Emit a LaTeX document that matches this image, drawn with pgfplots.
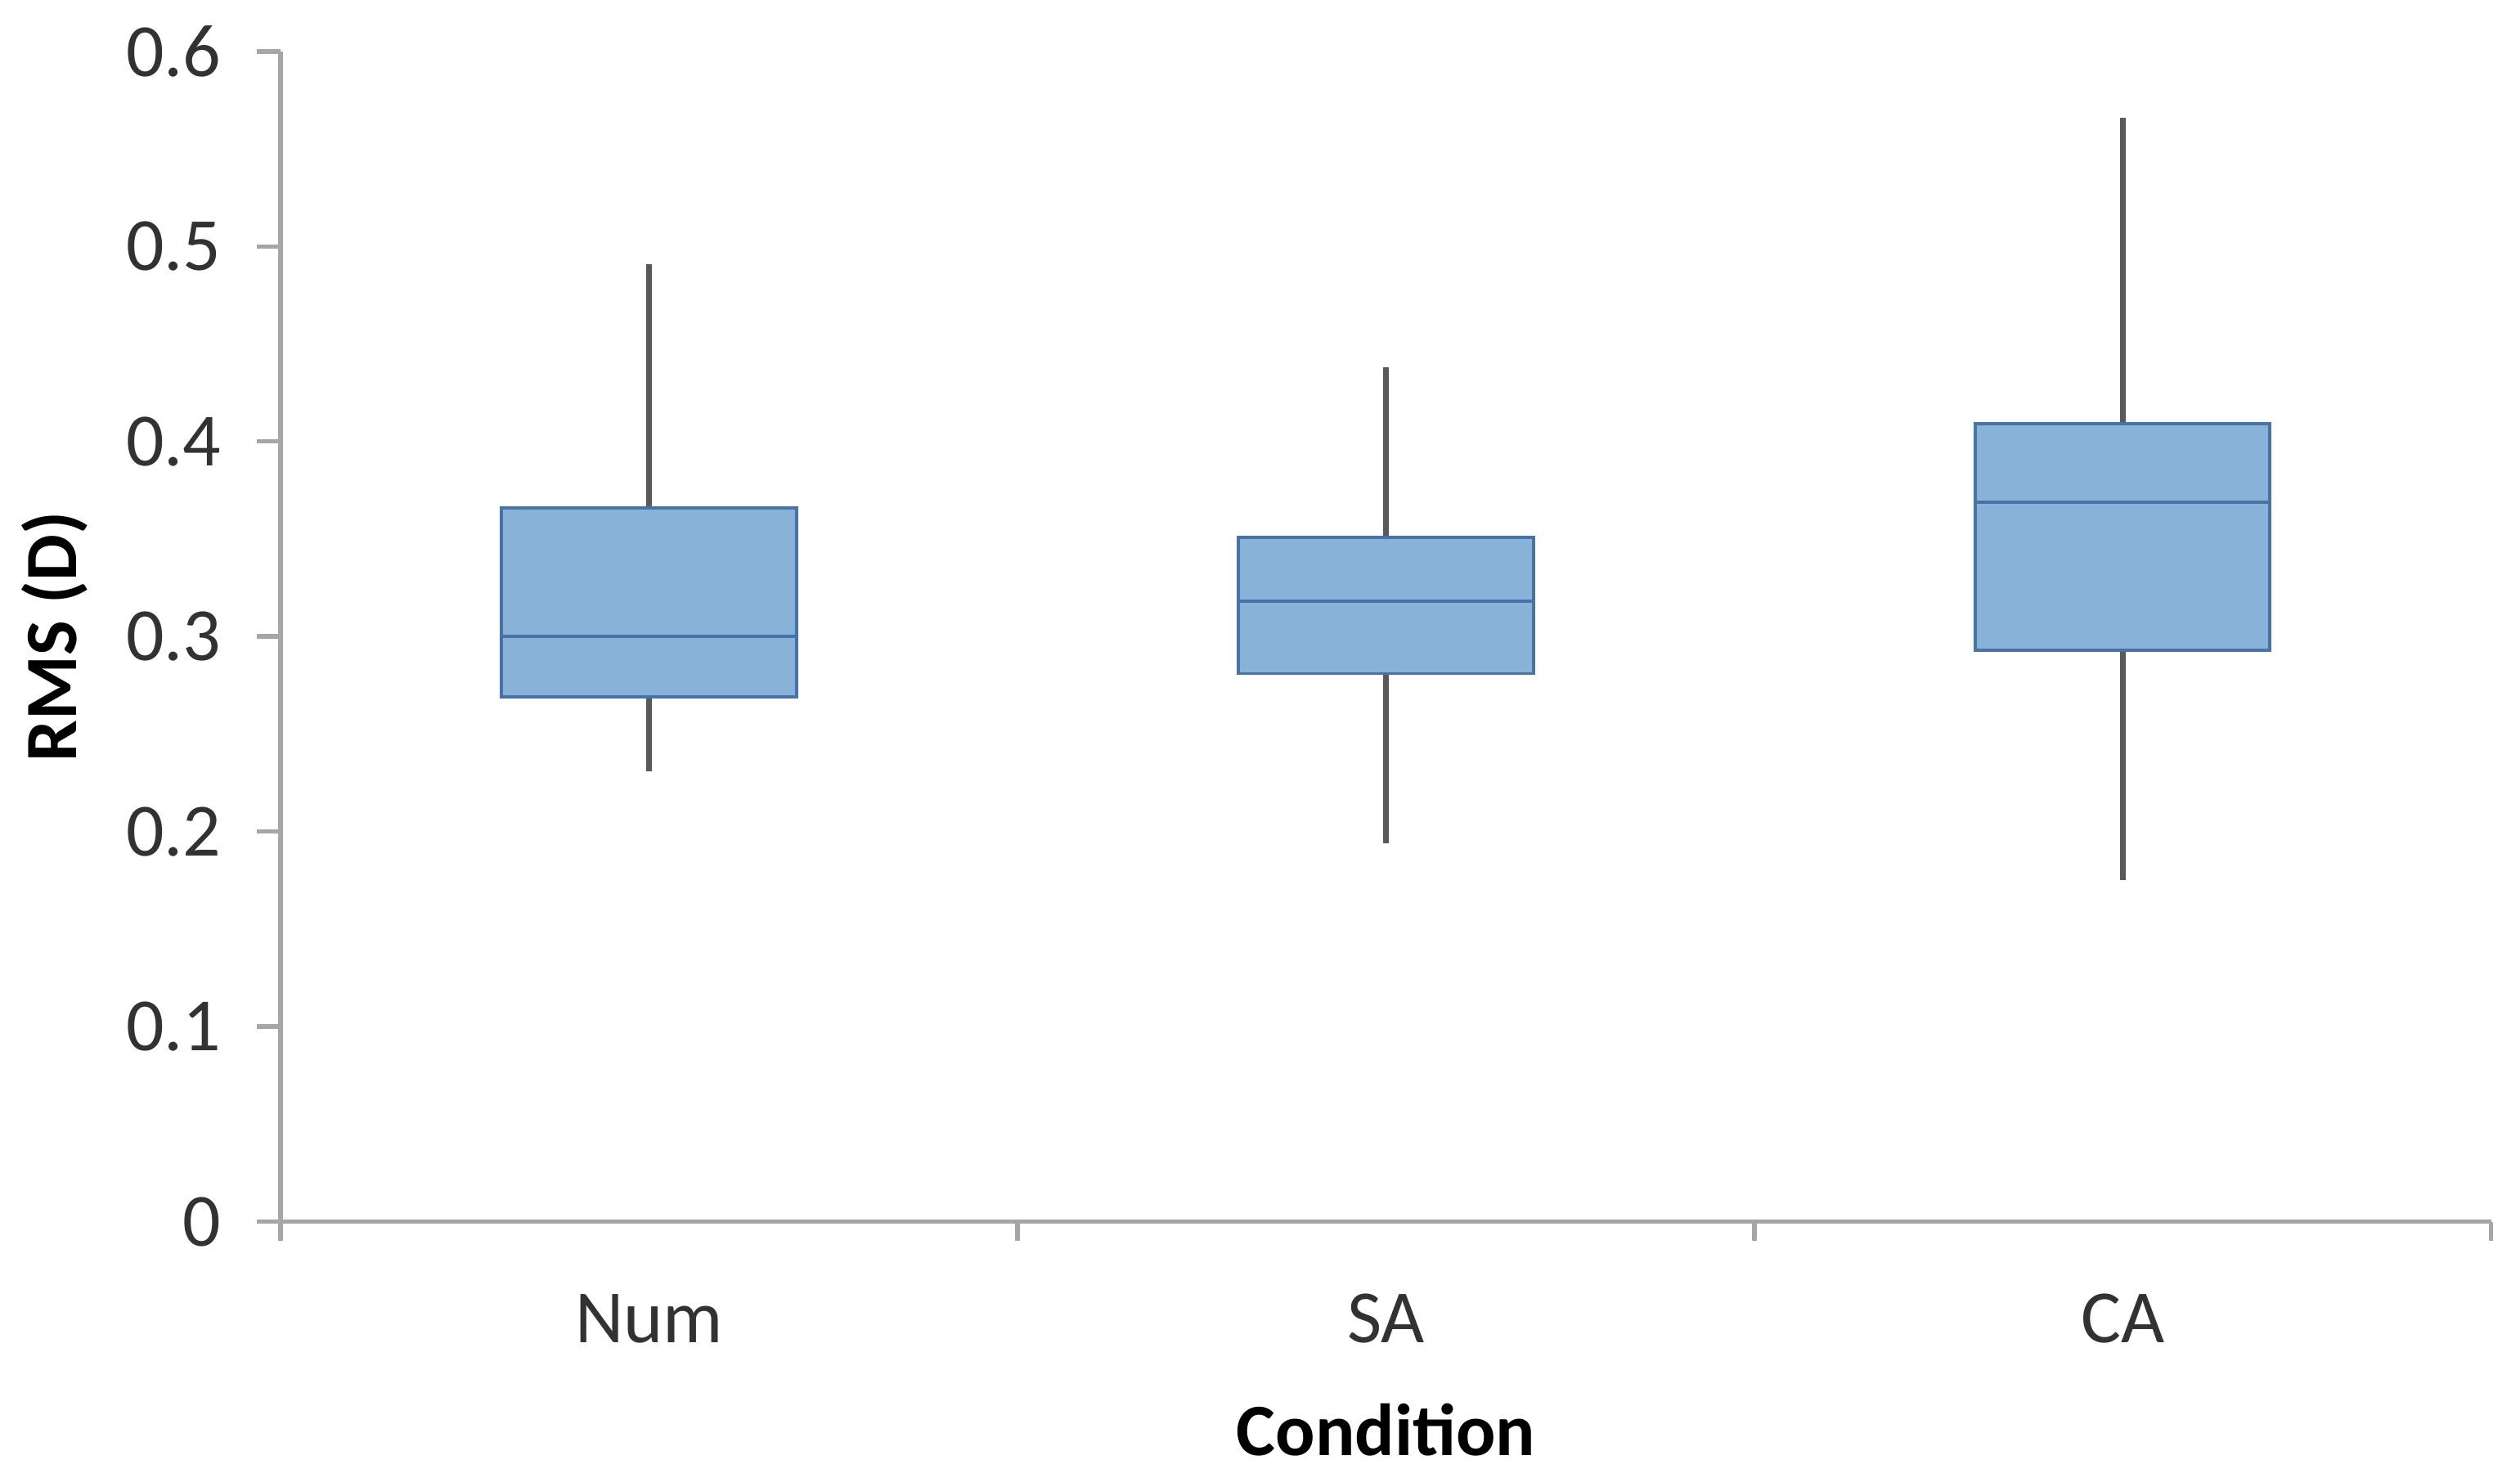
\documentclass[border=0pt]{standalone}
\usepackage{fontspec}
\setmainfont{Carlito}
\usepackage{pgfplots}
\pgfplotsset{compat=1.18}
\usepgfplotslibrary{statistics}
\definecolor{boxfill}{RGB}{137,178,217}
\definecolor{boxedge}{RGB}{70,115,170}
\definecolor{whisk}{RGB}{89,89,89}
\definecolor{axgray}{RGB}{166,166,166}
\definecolor{txt}{RGB}{50,50,50}
\begin{document}
\begin{tikzpicture}
\begin{axis}[
  scale only axis, width=344.25pt, height=182.25pt,
  xmin=-0.5, xmax=2.5, ymin=0, ymax=0.6,
  axis x line=bottom, axis y line=left,
  axis line style={-, draw=axgray, line width=0.7pt},
  tick style={draw=axgray, line width=0.7pt},
  tick align=outside,
  major tick length=3.75pt,
  minor tick length=3pt,
  /pgf/number format/assume math mode=true,
  ytick={0,0.1,0.2,0.3,0.4,0.5,0.6},
  yticklabels={0,0.1,0.2,0.3,0.4,0.5,0.6},
  yticklabel style={font=\fontsize{11.7}{14}\selectfont, text=txt, xshift=-2pt},
  xtick={0,1,2}, xticklabels={Num,SA,CA},
  major x tick style={draw=none},
  minor xtick={-0.5,0.5,1.5,2.5},
  xticklabel style={font=\fontsize{11.7}{14}\selectfont, text=txt, yshift=-4pt},
  xlabel={\bfseries Condition},
  ylabel={\bfseries RMS (D)},
  xlabel style={font=\fontsize{11.5}{14}\selectfont, at={(axis description cs:0.5,-0.178)}, anchor=center},
  ylabel style={font=\fontsize{11.5}{14}\selectfont, at={(axis description cs:-0.1024,0.5)}, anchor=center},
  boxplot/draw direction=y,
  boxplot/box extend=0.4,
  boxplot/whisker extend=0,
  boxplot/every box/.style={draw=boxedge, fill=boxfill, line width=0.5pt},
  boxplot/every median/.style={draw=boxedge, line width=0.5pt},
  boxplot/every whisker/.style={draw=whisk, line width=0.9pt},
]
\addplot[boxplot prepared={draw position=0, lower whisker=0.231, lower quartile=0.269, median=0.300, upper quartile=0.366, upper whisker=0.491}, draw=boxedge] coordinates {};
\addplot[boxplot prepared={draw position=1, lower whisker=0.194, lower quartile=0.281, median=0.318, upper quartile=0.351, upper whisker=0.438}, draw=boxedge] coordinates {};
\addplot[boxplot prepared={draw position=2, lower whisker=0.175, lower quartile=0.293, median=0.369, upper quartile=0.409, upper whisker=0.566}, draw=boxedge] coordinates {};
\end{axis}
\path (current axis.south west) ++(-43.25pt,-39.25pt) rectangle ++(392pt,229.5pt);
\end{tikzpicture}
\end{document}
